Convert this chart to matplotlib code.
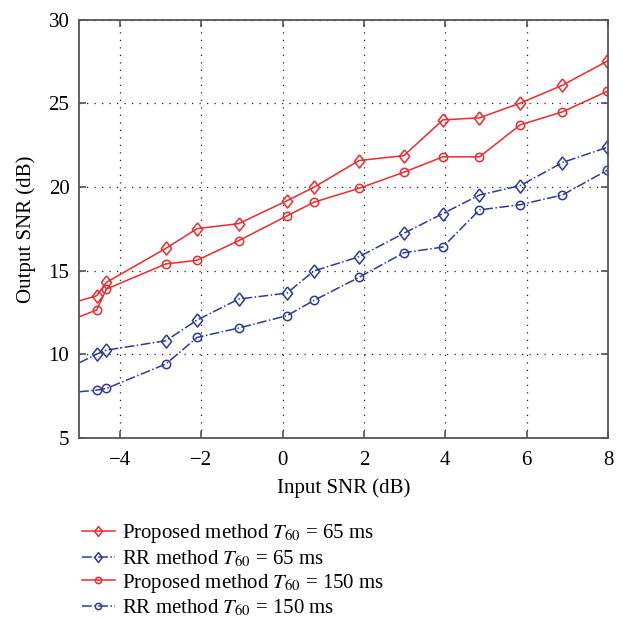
import matplotlib
matplotlib.use('Agg')
import matplotlib.pyplot as plt

plt.rcParams['font.family'] = ['Liberation Serif', 'DejaVu Serif']
plt.rcParams['mathtext.fontset'] = 'stix'

# first value of each series is where the line meets the left edge (no marker)
snr_in = [-5.0, -4.57, -4.33, -2.87, -2.10, -1.08, 0.11, 0.77, 1.88, 2.98, 3.94, 4.84, 5.84, 6.88, 7.98]
prop_65 = [13.2, 13.51, 14.31, 16.34, 17.52, 17.82, 19.19, 19.99, 21.59, 21.88, 24.02, 24.14, 25.02, 26.09, 27.53]
rr_65 = [9.5, 10.02, 10.26, 10.82, 12.06, 13.31, 13.67, 14.99, 15.84, 17.24, 18.42, 19.53, 20.09, 21.47, 22.38]
prop_150 = [12.25, 12.66, 13.91, 15.41, 15.63, 16.8, 18.28, 19.1, 19.93, 20.89, 21.81, 21.81, 23.72, 24.5, 25.73]
rr_150 = [7.77, 7.87, 7.97, 9.43, 11.02, 11.58, 12.32, 13.23, 14.61, 16.08, 16.42, 18.64, 18.95, 19.53, 21.01]

red = '#ee2a2e'
blue = '#2e3a96'
marks = list(range(1, len(snr_in)))
fs = 15
diamond = [(0, 1), (0.78, 0), (0, -1), (-0.78, 0), (0, 1)]

fig = plt.figure(figsize=(6.23, 6.18), dpi=100)
ax = fig.add_axes([0.127, 0.291, 0.849, 0.677])

ax.plot(snr_in, prop_65, color=red, lw=1.1, marker=diamond, ms=9.5, mfc='none', mew=1.1,
        markevery=marks, label='Proposed method $T_{60}$ = 65 ms')
ax.plot(snr_in, rr_65, color=blue, lw=1.1, ls='-.', marker=diamond, ms=9.5, mfc='none', mew=1.1,
        markevery=marks, label='RR method $T_{60}$ = 65 ms')
ax.plot(snr_in, prop_150, color=red, lw=1.1, marker='o', ms=6, mfc='none', mew=1.1,
        markevery=marks, label='Proposed method $T_{60}$ = 150 ms')
ax.plot(snr_in, rr_150, color=blue, lw=1.1, ls='-.', marker='o', ms=6, mfc='none', mew=1.1,
        markevery=marks, label='RR method $T_{60}$ = 150 ms')

ax.set_xlim(-5, 8)
ax.set_ylim(5, 30)
ax.set_xticks([-4, -2, 0, 2, 4, 6, 8])
ax.set_xticklabels(['\u22124', '\u22122', '0', '2', '4', '6', '8'])
ax.set_yticks([5, 10, 15, 20, 25, 30])
ax.grid(True, color='#222222', ls=(0, (1, 5)), lw=0.9)
ax.tick_params(direction='in', top=True, right=True, length=5, width=1.1,
               color='#444444', labelsize=fs)
ax.tick_params(axis='x', pad=9)
ax.tick_params(axis='y', pad=7)
for s in ax.spines.values():
    s.set_color('#555555')
    s.set_linewidth(1.3)
ax.set_xlabel('Input SNR (dB)', fontsize=fs, labelpad=6)
ax.set_ylabel('Output SNR (dB)', fontsize=fs, labelpad=9)

fig.legend(loc='upper left', bbox_to_anchor=(0.131, 0.155), frameon=False, fontsize=fs,
           handlelength=1.6, handletextpad=0.35, labelspacing=0.14, borderpad=0,
           borderaxespad=0, markerscale=0.75)

fig.savefig('out.png', dpi=100)
